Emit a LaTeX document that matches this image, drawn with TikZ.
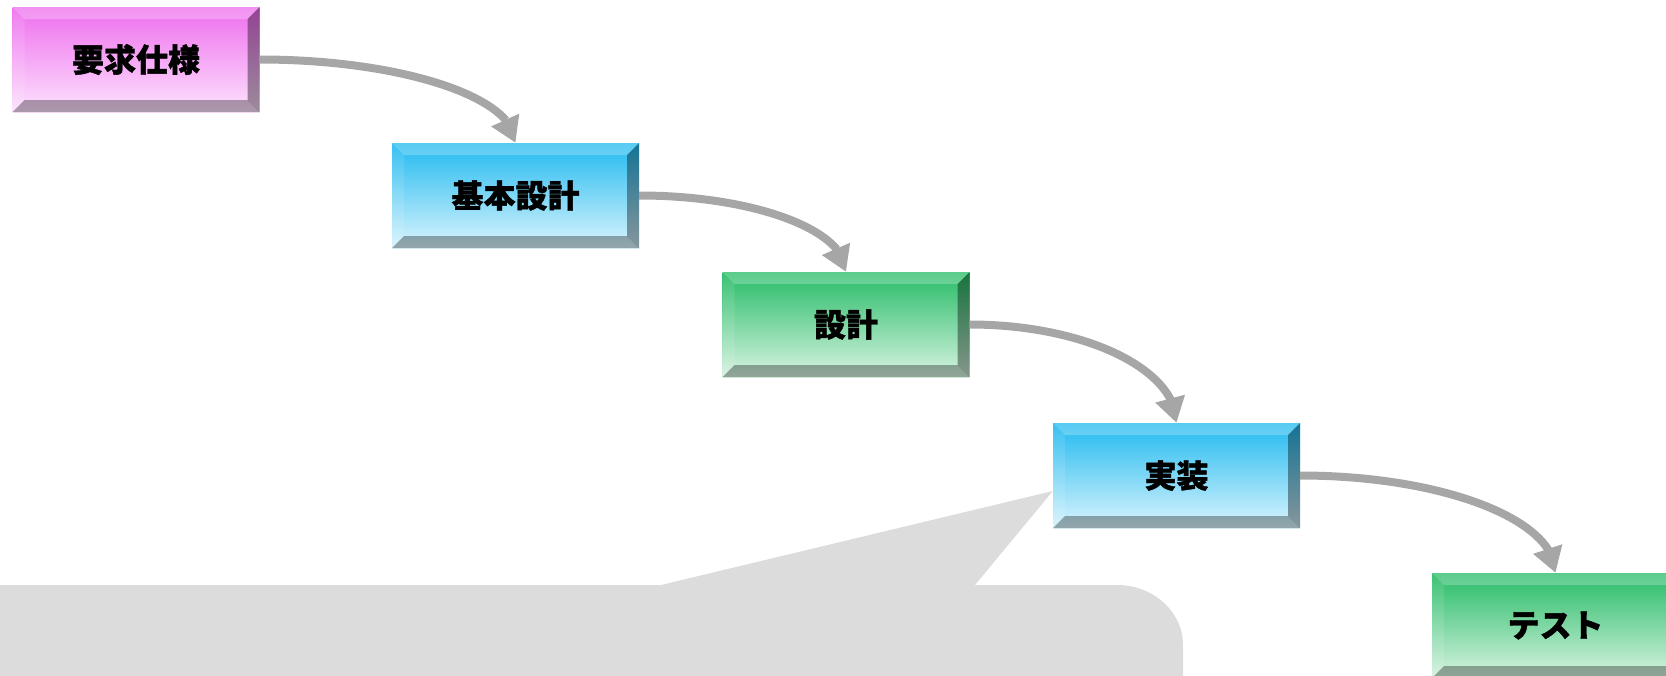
\documentclass[tikz,border=0pt]{standalone}
\usepackage{fontspec}
\newfontfamily\jp{Noto Sans CJK JP}[BoldFeatures={FakeBold=1.2}]
\usetikzlibrary{arrows.meta,bending,backgrounds}
\definecolor{pinkT}{HTML}{EE6EEE}
\definecolor{pinkB}{HTML}{FDE2FD}
\definecolor{blueT}{HTML}{22BAF0}
\definecolor{blueB}{HTML}{DAF4FD}
\definecolor{greenT}{HTML}{26BC66}
\definecolor{greenB}{HTML}{D8F3E2}
\definecolor{arrowgray}{HTML}{A6A6A6}
\definecolor{calloutgray}{HTML}{DCDCDC}
\tikzset{
  stagebox/.style 2 args={
    minimum width=247pt, minimum height=105pt, inner sep=0pt,
    top color=#1, bottom color=#2,
    font=\jp\bfseries\fontsize{32}{32}\selectfont,
    path picture={
      \fill[white,opacity=.25] (path picture bounding box.north west) -- (path picture bounding box.north east)
        -- ([shift={(-12pt,-12pt)}]path picture bounding box.north east) -- ([shift={(12pt,-12pt)}]path picture bounding box.north west) -- cycle;
      \fill[white,opacity=.1] (path picture bounding box.north west) -- ([shift={(12pt,-12pt)}]path picture bounding box.north west)
        -- ([shift={(12pt,12pt)}]path picture bounding box.south west) -- (path picture bounding box.south west) -- cycle;
      \fill[black,opacity=.38] (path picture bounding box.north east) -- ([shift={(-12pt,-12pt)}]path picture bounding box.north east)
        -- ([shift={(-12pt,12pt)}]path picture bounding box.south east) -- (path picture bounding box.south east) -- cycle;
      \fill[black,opacity=.32] (path picture bounding box.south west) -- ([shift={(12pt,12pt)}]path picture bounding box.south west)
        -- ([shift={(-12pt,12pt)}]path picture bounding box.south east) -- (path picture bounding box.south east) -- cycle;
    }
  },
  conn/.style={draw=arrowgray, line width=8pt, -{Triangle[length=25pt,width=29pt,flex]}}
}
\begin{document}
\begin{tikzpicture}[x=1pt,y=1pt]
\useasboundingbox (0,0) rectangle (1666,-675);
\node[stagebox={pinkT}{pinkB}]   (req)   at (136,-59.5)    {要求仕様};
\node[stagebox={blueT}{blueB}]   (basic) at (515.5,-195.5) {基本設計};
\node[stagebox={greenT}{greenB}] (des)   at (846,-324.5)   {設計};
\node[stagebox={blueT}{blueB}]   (impl)  at (1176.5,-475.5) {実装};
\node[stagebox={greenT}{greenB}] (test)  at (1555.5,-625.5) {テスト};
% callout
\begin{scope}[on background layer]
\fill[calloutgray] (-10,-585) -- (661,-585) -- ([yshift=-15.5pt]impl.west) -- (975,-585) -- (1117,-585)
  arc[start angle=90, end angle=0, x radius=66, y radius=60] -- (1183,-690) -- (-10,-690) -- cycle;
\end{scope}
% connectors
\draw[conn] (req.east) .. controls +(140,0) and +(0,46) .. (basic.north);
\draw[conn] (basic.east) .. controls +(114,0) and +(0,42) .. (des.north);
\draw[conn] (des.east) .. controls +(114,0) and +(0,54) .. (impl.north);
\draw[conn] (impl.east) .. controls +(140,0) and +(0,54) .. (test.north);
\end{tikzpicture}
\end{document}
